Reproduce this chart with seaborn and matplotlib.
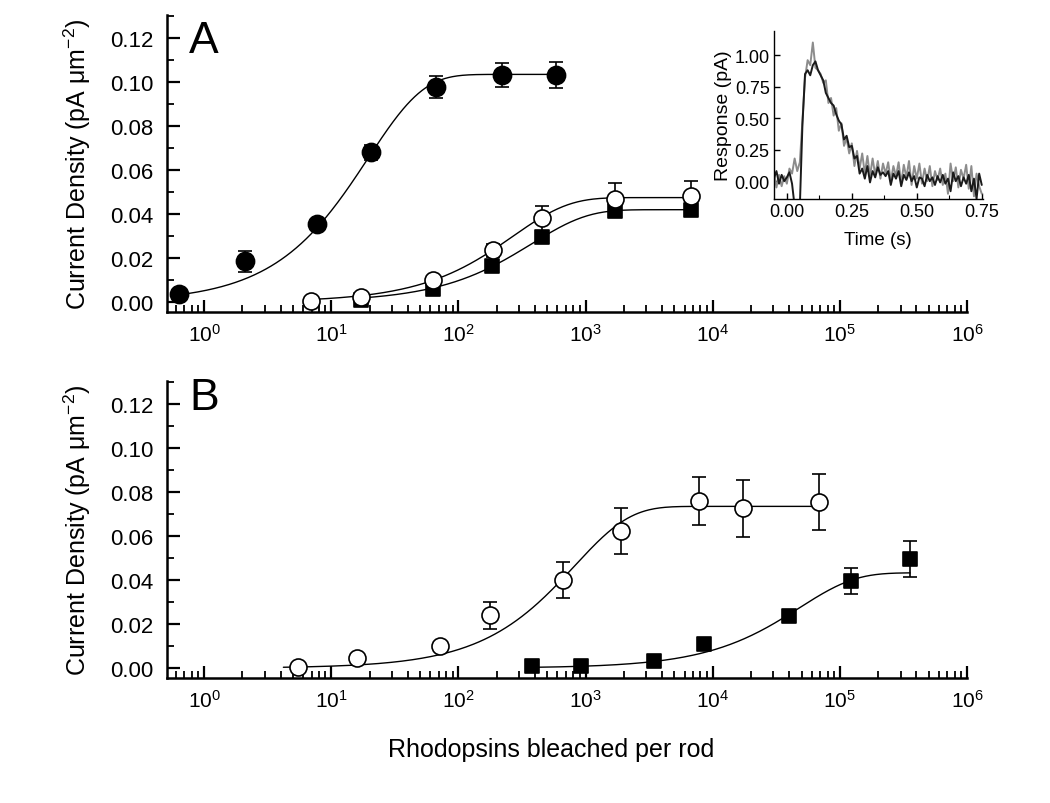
import numpy as np
import matplotlib
matplotlib.use("Agg")
import matplotlib.pyplot as plt
import seaborn as sns
from matplotlib.ticker import FixedLocator, LogLocator, MultipleLocator, FormatStrFormatter, NullFormatter

# ---- panel A data ----
a_fill_x = [0.635, 2.1, 7.76, 20.6, 67.1, 222, 581]
a_fill_y = [0.0035, 0.0186, 0.0355, 0.068, 0.0977, 0.1032, 0.1033]
a_fill_err = [0.0008, 0.0048, 0.0012, 0.0035, 0.0049, 0.0053, 0.0059]

a_open_x = [6.97, 17.2, 63.5, 186, 458, 1700, 6740]
a_open_y = [0.0005, 0.0025, 0.0100, 0.0236, 0.0380, 0.0468, 0.0482]
a_open_err = [0.0005, 0.0015, 0.0020, 0.0030, 0.0056, 0.0073, 0.0068]

a_sq_x = [17.2, 63.5, 182, 458, 1700, 6740]
a_sq_y = [0.0010, 0.0060, 0.0164, 0.0295, 0.0415, 0.0420]
a_sq_err = [0.0010, 0.0012, 0.0015, 0.0020, 0.0022, 0.0022]

# ---- panel B data ----
b_open_x = [5.5, 16, 71, 178, 660, 1900, 7760, 17400, 69000]
b_open_y = [0.0005, 0.0045, 0.0100, 0.0240, 0.0400, 0.0623, 0.0760, 0.0727, 0.0755]
b_open_err = [0.0015, 0.0015, 0.0020, 0.0062, 0.0080, 0.0105, 0.0110, 0.0130, 0.0128]

b_sq_x = [376, 912, 3430, 8500, 39600, 123000, 356000]
b_sq_y = [0.0010, 0.0010, 0.0030, 0.0110, 0.0237, 0.0395, 0.0495]
b_sq_err = [0.0005, 0.0005, 0.0008, 0.0010, 0.0012, 0.0060, 0.0083]

# fitted saturating curves: amplitude, x0, first and last x
fit_amp = [0.1035, 0.0475, 0.0420, 0.0735, 0.0433]
fit_x0 = [19.5, 270, 378, 820, 48000]
fit_start = [0.635, 6.97, 17.2, 4.2, 376]
fit_end = [581, 6740, 6740, 69000, 356000]
fit_panel = ["A", "A", "A", "B", "B"]

x_ticks = [1, 10, 100, 1e3, 1e4, 1e5, 1e6]

# ---- inset traces ----
trace_t = [round(-0.05 + 0.01 * i, 2) for i in range(81)]
trace_black = [0.02, 0.08, -0.02, 0.05, 0.00, 0.03, 0.07, -0.02, -0.20, -0.25,
               -0.20, 0.45, 0.85, 0.88, 0.84, 0.92, 0.95, 0.88, 0.84, 0.80,
               0.70, 0.66, 0.62, 0.60, 0.53, 0.48, 0.45, 0.33, 0.36, 0.27,
               0.28, 0.18, 0.20, 0.06, 0.10, 0.02, 0.12, -0.01, 0.08, 0.03,
               0.11, 0.05, 0.07, 0.04, 0.08, -0.03, 0.06, 0.02, 0.08, -0.04,
               0.05, 0.01, 0.07, 0.00, 0.04, -0.05, 0.03, 0.02, -0.04, 0.05,
               0.00, 0.03, -0.03, 0.04, -0.01, 0.05, -0.02, 0.02, -0.08, 0.07,
               0.00, 0.04, -0.04, 0.03, -0.02, 0.05, -0.08, 0.02, -0.14, 0.06,
               -0.03]
trace_gray = [0.08, -0.05, 0.05, -0.04, 0.04, -0.02, 0.10, 0.06, 0.18, 0.08,
              0.15, 0.48, 0.82, 0.96, 0.92, 1.10, 0.90, 0.88, 0.85, 0.78,
              0.80, 0.62, 0.66, 0.52, 0.58, 0.40, 0.46, 0.28, 0.34, 0.22,
              0.30, 0.12, 0.24, 0.10, 0.22, 0.06, 0.20, 0.04, 0.18, 0.05,
              0.16, 0.02, 0.14, 0.06, 0.15, 0.00, 0.12, 0.04, 0.15, -0.02,
              0.13, 0.03, 0.16, -0.03, 0.12, 0.02, 0.14, -0.02, 0.10, 0.00,
              0.12, -0.04, 0.08, 0.01, 0.10, -0.03, 0.06, -0.10, 0.14, 0.00,
              0.11, -0.05, 0.09, 0.02, 0.13, -0.06, 0.12, -0.12, 0.06, -0.04,
              -0.10]

sns.set_style("ticks")
plt.rcParams["font.family"] = ["Liberation Sans", "DejaVu Sans"]
plt.rcParams["mathtext.fontset"] = "custom"
plt.rcParams["mathtext.rm"] = "Liberation Sans"
plt.rcParams["mathtext.it"] = "Liberation Sans:italic"
plt.rcParams["mathtext.bf"] = "Liberation Sans:bold"
for key in ["text.color", "axes.labelcolor", "xtick.color", "ytick.color", "axes.edgecolor"]:
    plt.rcParams[key] = "black"

fig = plt.figure(figsize=(10.5, 8.04), dpi=100)
ax_a = fig.add_axes([0.159, 0.6107, 0.762, 0.3694])
ax_b = fig.add_axes([0.159, 0.1555, 0.762, 0.3694])
axes = {"A": ax_a, "B": ax_b}


def style_main(ax):
    ax.set_xscale("log")
    ax.set_xlim(0.51, 1.0e6)
    ax.set_ylim(-0.0045, 0.1305)
    ax.xaxis.set_major_locator(FixedLocator(x_ticks))
    ax.xaxis.set_minor_locator(LogLocator(base=10, subs=np.arange(2, 10), numticks=20))
    ax.xaxis.set_minor_formatter(NullFormatter())
    ax.yaxis.set_major_locator(MultipleLocator(0.02))
    ax.yaxis.set_minor_locator(MultipleLocator(0.01))
    ax.yaxis.set_major_formatter(FormatStrFormatter("%.2f"))
    for s in ["top", "right"]:
        ax.spines[s].set_visible(False)
    for s in ["left", "bottom"]:
        ax.spines[s].set_linewidth(1.8)
    ax.tick_params(which="major", direction="in", length=9, width=1.6)
    ax.tick_params(which="minor", direction="in", length=5, width=1.3)
    ax.tick_params(axis="y", labelsize=16, pad=10)
    ax.tick_params(axis="x", labelsize=15, pad=8)
    ax.set_ylabel("Current Density (pA μm$^{-2}$)", fontsize=18)
    ax.yaxis.set_label_coords(-0.092, 0.5)
    ax.set_facecolor("white")


for ax in (ax_a, ax_b):
    style_main(ax)

# fit curves
for amp, x0, x1, x2, p in zip(fit_amp, fit_x0, fit_start, fit_end, fit_panel):
    xs = np.logspace(np.log10(x1), np.log10(x2), 300)
    ys = amp * (1 - np.exp(-xs / x0))
    sns.lineplot(x=xs, y=ys, ax=axes[p], color="black", lw=1.0, zorder=2)


def points(ax, x, y, err, marker, face, size):
    ax.errorbar(x, y, yerr=err, fmt="none", ecolor="black", elinewidth=1.2,
                capsize=5, capthick=1.2, zorder=3)
    sns.scatterplot(x=x, y=y, ax=ax, marker=marker, s=size, color=face,
                    edgecolor="black", linewidth=1.2, zorder=4)


points(ax_a, a_sq_x, a_sq_y, a_sq_err, "s", "black", 110)
points(ax_a, a_open_x, a_open_y, a_open_err, "o", "white", 150)
points(ax_a, a_fill_x, a_fill_y, a_fill_err, "o", "black", 170)
points(ax_b, b_sq_x, b_sq_y, b_sq_err, "s", "black", 110)
points(ax_b, b_open_x, b_open_y, b_open_err, "o", "white", 150)

ax_a.set_xlabel("")
ax_b.set_xlabel("Rhodopsins bleached per rod", fontsize=18)
ax_b.xaxis.set_label_coords(0.48, -0.20)

ax_a.text(0.028, 0.875, "A", transform=ax_a.transAxes, fontsize=32)
ax_b.text(0.028, 0.905, "B", transform=ax_b.transAxes, fontsize=32)

# inset
ax_in = fig.add_axes([0.737, 0.751, 0.199, 0.209])
sns.lineplot(x=trace_t, y=trace_gray, ax=ax_in, color="#8c8c8c", lw=1.4)
sns.lineplot(x=trace_t, y=trace_black, ax=ax_in, color="#1a1a1a", lw=1.4)
ax_in.set_xlim(-0.05, 0.754)
ax_in.set_ylim(-0.143, 1.19)
ax_in.xaxis.set_major_locator(MultipleLocator(0.25))
ax_in.xaxis.set_minor_locator(MultipleLocator(0.125))
ax_in.yaxis.set_major_locator(MultipleLocator(0.25))
ax_in.xaxis.set_major_formatter(FormatStrFormatter("%.2f"))
ax_in.yaxis.set_major_formatter(FormatStrFormatter("%.2f"))
for s in ["top", "right"]:
    ax_in.spines[s].set_visible(False)
for s in ["left", "bottom"]:
    ax_in.spines[s].set_linewidth(1.0)
ax_in.tick_params(which="major", direction="in", length=4, width=1.0, labelsize=13, pad=3)
ax_in.tick_params(which="minor", direction="in", length=3, width=0.8)
ax_in.set_xlabel("Time (s)", fontsize=13.5, labelpad=8)
ax_in.set_ylabel("Response (pA)", fontsize=14, labelpad=2)
ax_in.set_facecolor("none")

fig.savefig("out.png", dpi=100)
